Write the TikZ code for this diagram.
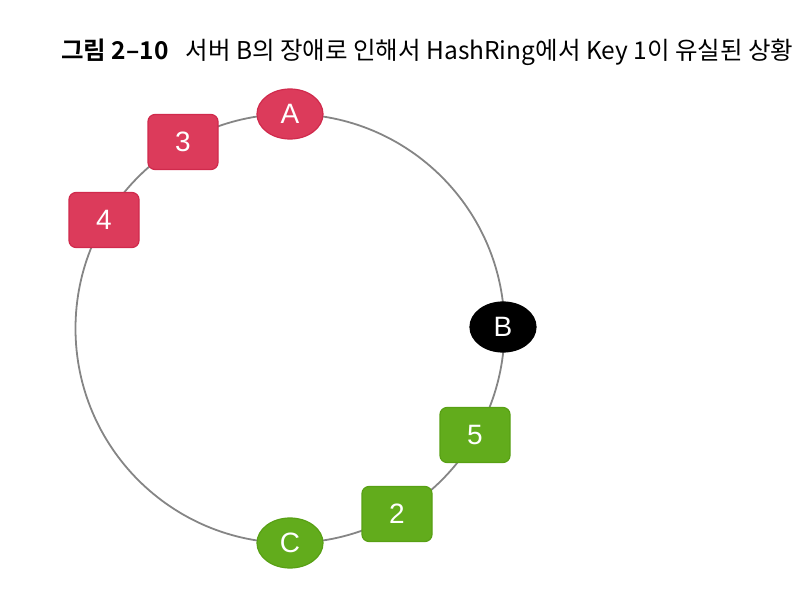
\documentclass[tikz,border=0pt]{standalone}
\usepackage{fontspec}
\setmainfont{Liberation Sans}
\newfontfamily\krfont{Noto Sans CJK KR}
\newfontfamily\krbold{Noto Sans CJK KR Bold}
\usetikzlibrary{shapes.geometric}
\definecolor{ringred}{HTML}{DC3B5B}
\definecolor{ringredd}{HTML}{D02A4C}
\definecolor{ringgreen}{HTML}{62AC1C}
\definecolor{ringgreend}{HTML}{58A014}
\definecolor{ringgray}{HTML}{858585}
\tikzset{
  ringline/.style={draw=ringgray, line width=1.8pt},
  label font/.style={text=white, font=\fontsize{28}{28}\selectfont},
  server/.style={ellipse, minimum width=66pt, minimum height=50pt, inner sep=0pt, line width=1.2pt, label font},
  keybox/.style={rectangle, rounded corners=7pt, minimum width=70pt, minimum height=55pt, inner sep=0pt, line width=1.2pt, label font},
  redfill/.style={fill=ringred, draw=ringredd},
  greenfill/.style={fill=ringgreen, draw=ringgreend},
  blackfill/.style={fill=black, draw=black},
}
\begin{document}
\begin{tikzpicture}[x=1pt,y=-1pt]
\useasboundingbox (0,0) rectangle (812,594);
\node[anchor=base west, inner sep=0pt, font=\fontsize{24.5}{24.5}\selectfont] (title) at (61,60)
  {{\krbold 그림 2–10}\hspace{17pt}{\krfont 서버 B의 장애로 인해서 HashRing에서 Key 1이 유실된 상황}};
\coordinate (ctr) at (290,328.5);
\draw[ringline] (ctr) circle (214.5);
\node[server, redfill] (A) at (290,114) {A};
\node[keybox, redfill] (k3) at (183,142) {3};
\node[keybox, redfill] (k4) at (104,220) {4};
\node[server, blackfill] (B) at (503,327) {B};
\node[keybox, greenfill] (k5) at (475,435) {5};
\node[keybox, greenfill] (k2) at (397,514) {2};
\node[server, greenfill] (C) at (290,543) {C};
\end{tikzpicture}
\end{document}
